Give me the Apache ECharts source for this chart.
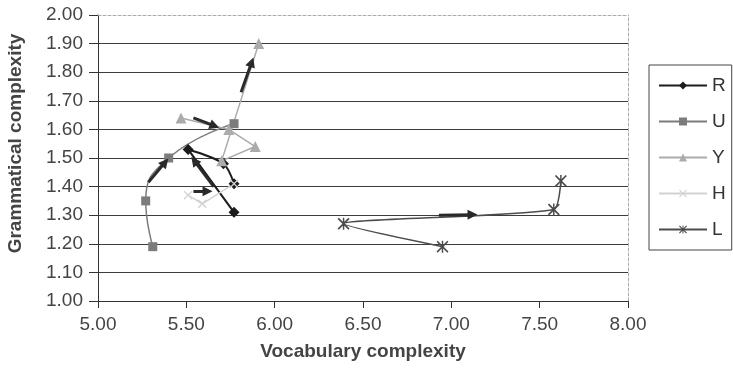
<!DOCTYPE html>
<html>
<head>
<meta charset="utf-8">
<script src="https://cdn.jsdelivr.net/npm/echarts@6/dist/echarts.min.js"></script>
<style>
  html, body { margin: 0; padding: 0; background: #ffffff; }
  #chart { width: 733px; height: 370px; }
</style>
</head>
<body>
<div id="chart"></div>
<script>
// Learner trajectories: [vocabulary complexity, grammatical complexity]
const seriesNames = ['R', 'U', 'Y', 'H', 'L'];
const dataR = [[5.77, 1.31], [5.51, 1.53], [5.71, 1.48], [5.77, 1.41]];
const dataU = [[5.31, 1.19], [5.27, 1.35], [5.40, 1.50], [5.77, 1.62]];
const dataY = [[5.47, 1.64], [5.74, 1.60], [5.89, 1.54], [5.70, 1.49], [5.91, 1.90]];
const dataH = [[5.51, 1.37], [5.59, 1.34], [5.77, 1.41]];
const dataL = [[6.95, 1.19], [6.39, 1.27], [7.58, 1.32], [7.62, 1.42]];

// Direction-of-change arrows: [from, to]
const arrows = [
  [[5.54, 1.640], [5.66, 1.612]],
  [[5.81, 1.730], [5.87, 1.835]],
  [[5.285, 1.415], [5.38, 1.485]],
  [[5.655, 1.400], [5.545, 1.490]],
  [[5.54, 1.384], [5.62, 1.384]],
  [[6.93, 1.300], [7.12, 1.302]]
];

const xTicks = { min: 5, max: 8, step: 0.5 };
const yTicks = { min: 1, max: 2, step: 0.1 };

const xMarkPath = 'path://M0,1 L1,0 L5,4 L9,0 L10,1 L6,5 L10,9 L9,10 L5,6 L1,10 L0,9 L4,5 Z';
const starPath = 'path://M0,1 L1,0 L5,4 L9,0 L10,1 L6,5 L10,9 L9,10 L5,6 L1,10 L0,9 L4,5 Z M4.4,0 L5.6,0 L5.6,10 L4.4,10 Z';

const FONT = '"Liberation Sans", Arial, sans-serif';
const fmt = v => v.toFixed(2);

function lineSeries(name, data, color, symbol, size, width, smooth) {
  return {
    name: name,
    type: 'line',
    data: data,
    smooth: smooth,
    symbol: symbol,
    symbolSize: size,
    showAllSymbol: true,
    lineStyle: { color: color, width: width },
    itemStyle: { color: color, borderWidth: 0 },
    emphasis: { disabled: true },
    z: 3
  };
}

const chart = echarts.init(document.getElementById('chart'), null, { renderer: 'canvas' });

chart.setOption({
  animation: false,
  backgroundColor: '#ffffff',
  textStyle: { fontFamily: FONT },
  grid: { left: 98, right: 105, top: 15, bottom: 69, containLabel: false },
  xAxis: [
    {
      type: 'value', min: xTicks.min, max: xTicks.max, interval: xTicks.step,
      name: 'Vocabulary complexity', nameLocation: 'middle', nameGap: 41,
      nameTextStyle: { fontSize: 19, fontWeight: 'bold', color: '#444', fontFamily: FONT },
      axisLine: { show: true, onZero: false, lineStyle: { color: '#333', width: 1 } },
      axisTick: { show: true, inside: false, length: 7, lineStyle: { color: '#333' } },
      axisLabel: { formatter: fmt, fontSize: 19, color: '#444', margin: 14, fontFamily: FONT },
      splitLine: { show: false }
    },
    {
      type: 'value', position: 'top', min: xTicks.min, max: xTicks.max,
      axisLine: { show: true, lineStyle: { color: '#aaa', width: 1, type: [3, 2] } },
      axisTick: { show: false }, axisLabel: { show: false }, splitLine: { show: false }
    }
  ],
  yAxis: [
    {
      type: 'value', min: yTicks.min, max: yTicks.max, interval: yTicks.step,
      axisLine: { show: true, onZero: false, lineStyle: { color: '#333', width: 1 } },
      axisTick: { show: true, inside: false, length: 9, lineStyle: { color: '#333' } },
      axisLabel: { formatter: fmt, fontSize: 19, color: '#444', margin: 15, fontFamily: FONT },
      splitLine: { show: true, showMinLine: false, showMaxLine: false, lineStyle: { color: '#3c3c3c', width: 1.2 } }
    },
    {
      type: 'value', position: 'right', min: yTicks.min, max: yTicks.max,
      axisLine: { show: true, lineStyle: { color: '#aaa', width: 1, type: [3, 2] } },
      axisTick: { show: false }, axisLabel: { show: false }, splitLine: { show: false }
    }
  ],
  legend: {
    data: seriesNames,
    orient: 'vertical',
    left: 649, top: 65,
    padding: [11, 6, 11, 9],
    itemGap: 17,
    itemWidth: 48, itemHeight: 10,
    borderColor: '#444', borderWidth: 1,
    textStyle: { fontSize: 19, color: '#333', fontFamily: FONT, padding: [0, 0, 0, 0] },
    selectedMode: false
  },
  graphic: [
    {
      type: 'text', x: 16, y: 143.5, rotation: Math.PI / 2,
      style: {
        text: 'Grammatical complexity', fill: '#444',
        font: 'bold 19px ' + FONT, textAlign: 'center', textVerticalAlign: 'middle'
      }
    }
  ],
  series: [
    lineSeries('R', dataR, '#1c1c1c', 'diamond', 11, 2, 0.3),
    lineSeries('U', dataU, '#7c7c7c', 'rect', 9, 1.5, 0.5),
    lineSeries('Y', dataY, '#ababab', 'triangle', 11, 1.5, false),
    lineSeries('H', dataH, '#d2d2d2', xMarkPath, 9, 1.5, false),
    lineSeries('L', dataL, '#4c4c4c', starPath, 12, 1.5, 0.2),
    {
      name: 'arrows',
      type: 'lines',
      coordinateSystem: 'cartesian2d',
      data: arrows.map(a => ({ coords: a })),
      symbol: ['none', 'triangle'],
      symbolSize: 10,
      lineStyle: { color: '#2a2a2a', width: 3, opacity: 1 },
      silent: true,
      z: 5
    }
  ]
});
</script>
</body>
</html>
